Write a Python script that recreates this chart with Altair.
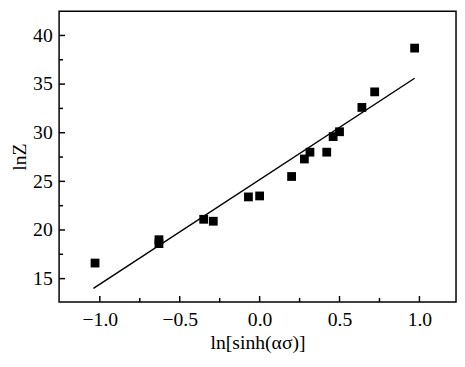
import altair as alt
import pandas as pd

# data
x_vals = [-1.03, -0.63, -0.63, -0.35, -0.29, -0.07, 0.0, 0.20, 0.28, 0.315, 0.42, 0.46, 0.50, 0.64, 0.72, 0.97]
y_vals = [16.6, 19.0, 18.6, 21.1, 20.9, 23.4, 23.5, 25.5, 27.3, 28.0, 28.0, 29.6, 30.1, 32.6, 34.2, 38.7]
fit_x = [-1.04, 0.97]
fit_y = [14.0, 35.6]
x_major = [-1.0, -0.5, 0.0, 0.5, 1.0]
x_minor = [-0.75, -0.25, 0.25, 0.75]
y_major = [15, 20, 25, 30, 35, 40]
y_minor = [17.5, 22.5, 27.5, 32.5, 37.5]

W, H = 404, 296
FONT = "'Liberation Serif', 'Times New Roman', serif"

xs = alt.Scale(domain=[-1.255, 1.229], nice=False, zero=False)
ys = alt.Scale(domain=[12.6, 42.5], nice=False, zero=False)

pts = pd.DataFrame({"x": x_vals, "y": y_vals})
fit = pd.DataFrame({"x": fit_x, "y": fit_y})

points = alt.Chart(pts).mark_square(size=80, color="black", opacity=1).encode(
    x=alt.X("x:Q", scale=xs, axis=alt.Axis(
        values=x_major, format=".1f", domain=False, ticks=False, grid=False,
        labelFont=FONT, labelFontSize=20, labelColor="black", labelPadding=8,
        title="ln[sinh(ασ)]", titleFont=FONT, titleFontSize=20, titleFontWeight="normal",
        titleColor="black", titlePadding=3)),
    y=alt.Y("y:Q", scale=ys, axis=alt.Axis(
        values=y_major, format="d", domain=False, ticks=False, grid=False,
        labelFont=FONT, labelFontSize=20, labelColor="black", labelPadding=7,
        title="lnZ", titleFont=FONT, titleFontSize=20, titleFontWeight="normal",
        titleColor="black", titlePadding=3)),
)

line = alt.Chart(fit).mark_line(color="black", strokeWidth=1.5).encode(
    x=alt.X("x:Q", scale=xs),
    y=alt.Y("y:Q", scale=ys),
)

def xticks(vals, length):
    return alt.Chart(pd.DataFrame({"x": vals})).mark_rule(color="black", strokeWidth=1.5).encode(
        x=alt.X("x:Q", scale=xs),
        y=alt.value(H), y2=alt.value(H - length))

def yticks(vals, length):
    return alt.Chart(pd.DataFrame({"y": vals})).mark_rule(color="black", strokeWidth=1.5).encode(
        y=alt.Y("y:Q", scale=ys),
        x=alt.value(0), x2=alt.value(length))

chart = alt.layer(
    points, line, xticks(x_major, 6), xticks(x_minor, 4), yticks(y_major, 6), yticks(y_minor, 4),
).properties(
    width=W, height=H,
    background="white",
    autosize=alt.AutoSizeParams(type="none"),
    padding={"left": 52, "top": 0, "right": 1, "bottom": 63},
).configure_view(stroke="black", strokeWidth=1.5).configure_axis(
    labelFont=FONT, titleFont=FONT
)

chart.save("out.html", embed_options={"renderer": "svg", "actions": False})
